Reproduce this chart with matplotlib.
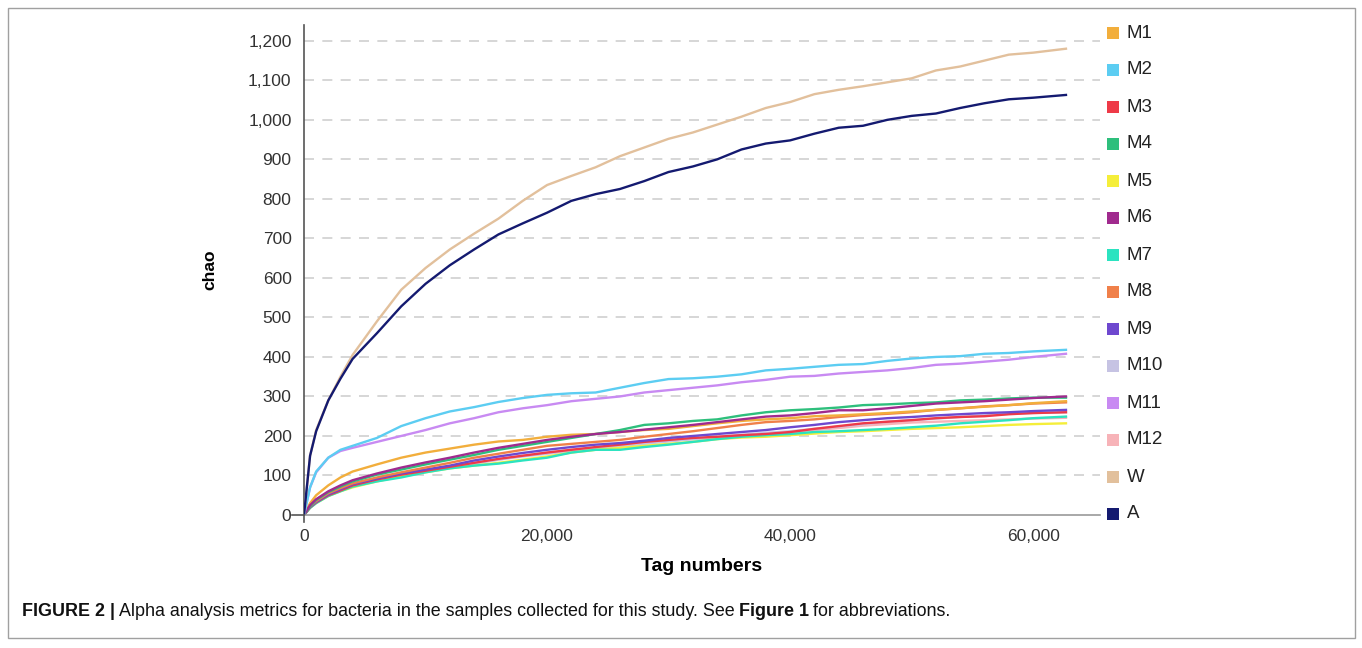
import matplotlib
matplotlib.use("Agg")
import matplotlib.pyplot as plt
from matplotlib.patches import Rectangle
from matplotlib.ticker import FuncFormatter

plt.rcParams['font.family'] = ['Liberation Sans', 'DejaVu Sans']

# ---------------- data ----------------
tags = [0, 500, 1000, 2000, 3000, 4000, 6000, 8000, 10000, 12000, 14000, 16000,
        18000, 20000, 22000, 24000, 26000, 28000, 30000, 32000, 34000, 36000,
        38000, 40000, 42000, 44000, 46000, 48000, 50000, 52000, 54000, 56000,
        58000, 60000, 62700]

M1 = [0, 30, 50, 75, 95, 110, 128, 145, 158, 168, 178, 186, 190, 198, 203, 205, 210,
      215, 218, 225, 232, 238, 242, 245, 250, 252, 255, 258, 262, 266, 270, 274, 278, 283, 288]
M2 = [0, 70, 110, 145, 165, 175, 195, 225, 245, 262, 273, 286, 296, 304, 308, 310, 322,
      334, 344, 346, 350, 356, 366, 370, 375, 380, 382, 390, 396, 400, 402, 408, 410, 414, 418]
M3 = [0, 20, 32, 50, 62, 75, 90, 102, 112, 122, 132, 142, 150, 158, 165, 172, 178,
      185, 190, 195, 198, 202, 205, 210, 218, 225, 232, 236, 240, 245, 248, 250, 255, 258, 260]
M4 = [0, 22, 38, 58, 72, 85, 102, 115, 128, 140, 152, 165, 175, 185, 195, 205, 215,
      228, 232, 238, 242, 252, 260, 265, 268, 272, 278, 280, 283, 285, 290, 292, 295, 297, 297]
M5 = [0, 18, 30, 48, 60, 70, 85, 98, 108, 118, 125, 132, 140, 148, 158, 165, 170,
      175, 180, 185, 192, 196, 198, 202, 206, 210, 212, 215, 218, 220, 222, 225, 228, 230, 232]
M6 = [0, 25, 40, 60, 75, 88, 105, 120, 133, 145, 158, 170, 180, 190, 198, 205, 210,
      216, 222, 228, 235, 242, 249, 252, 258, 265, 265, 270, 276, 282, 285, 288, 292, 296, 300]
M7 = [0, 18, 30, 48, 60, 72, 85, 95, 108, 118, 125, 130, 138, 145, 158, 165, 165,
      172, 178, 185, 192, 198, 202, 205, 210, 212, 215, 218, 222, 226, 232, 236, 240, 245, 249]
M8 = [0, 22, 35, 55, 68, 80, 95, 108, 120, 132, 145, 155, 165, 175, 180, 185, 190,
      198, 205, 212, 220, 228, 235, 238, 242, 248, 253, 256, 260, 266, 270, 275, 278, 282, 285]
M9 = [0, 20, 33, 52, 65, 78, 92, 105, 115, 125, 138, 148, 157, 165, 172, 178, 182,
      188, 195, 200, 205, 210, 215, 222, 228, 235, 240, 245, 248, 252, 255, 258, 260, 263, 266]
M10 = [0, 20, 32, 50, 62, 74, 88, 100, 110, 120, 130, 140, 148, 155, 162, 168, 175,
       180, 186, 192, 198, 203, 208, 212, 218, 224, 230, 236, 240, 244, 248, 252, 256, 258, 260]
M11 = [0, 70, 108, 145, 162, 170, 185, 200, 215, 232, 245, 260, 270, 278, 288, 294, 300,
       310, 316, 322, 328, 336, 342, 350, 352, 358, 362, 366, 372, 380, 383, 388, 393, 400, 408]
M12 = [0, 20, 33, 50, 63, 75, 90, 102, 112, 122, 132, 140, 150, 158, 165, 170, 175,
       182, 188, 192, 196, 200, 205, 210, 215, 220, 226, 230, 234, 236, 238, 240, 242, 244, 246]
W = [0, 150, 215, 290, 350, 405, 490, 570, 625, 672, 712, 750, 795, 835, 858, 880, 908,
     930, 952, 968, 988, 1008, 1030, 1045, 1065, 1076, 1085, 1095, 1105, 1125, 1135, 1150, 1165, 1170, 1180]
A = [0, 150, 212, 290, 345, 395, 460, 528, 585, 632, 672, 710, 738, 765, 795, 812, 825,
     845, 868, 882, 900, 925, 940, 948, 965, 980, 985, 1000, 1010, 1016, 1030, 1042, 1052, 1056, 1063]

names = ["M1", "M2", "M3", "M4", "M5", "M6", "M7", "M8", "M9", "M10", "M11", "M12", "W", "A"]
series = [M1, M2, M3, M4, M5, M6, M7, M8, M9, M10, M11, M12, W, A]
colors = ["#F2AE3C", "#5CCDF2", "#EE3A48", "#2EBF7C", "#F5EE3A", "#A02A8E", "#2BE3C0",
          "#F0804A", "#6E48CF", "#C6C3E3", "#C88AF2", "#F7B3B8", "#E2C09C", "#141A70"]

y_ticks = list(range(0, 1201, 100))
x_ticks = [0, 20000, 40000, 60000]

# ---------------- figure ----------------
fig = plt.figure(figsize=(13.62, 6.48), dpi=100)
ax = fig.add_axes([304 / 1362, 1 - 515 / 648, (1100 - 304) / 1362, (515 - 25) / 648])

order = [11, 9, 4, 6, 2, 8, 7, 0, 3, 5, 10, 1, 12, 13]
for i in order:
    ax.plot(tags, series[i], color=colors[i], lw=1.7, solid_joinstyle='round', zorder=3)

ax.set_xlim(0, 65500)
ax.set_ylim(0, 1240)
ax.set_yticks(y_ticks)
ax.set_xticks(x_ticks)
fmt = FuncFormatter(lambda v, p: f"{int(v):,}")
ax.yaxis.set_major_formatter(fmt)
ax.xaxis.set_major_formatter(fmt)
ax.tick_params(axis='both', length=0, labelsize=12.5, labelcolor='#333333', pad=9)
ax.tick_params(axis='x', pad=10)

for v in y_ticks[1:]:
    ax.axhline(v, color='#d0d0d0', lw=1.2, ls=(0, (6, 5)), zorder=1)

for s in ['top', 'right']:
    ax.spines[s].set_visible(False)
ax.spines['left'].set_color('#555555')
ax.spines['left'].set_linewidth(1.2)
ax.spines['bottom'].set_color('#9a9a9a')
ax.spines['bottom'].set_linewidth(1.2)

ax.plot([0, 0], [0, -18], color='#555555', lw=1.2, clip_on=False, zorder=4)
ax.plot([-1000, 0], [0, 0], color='#555555', lw=1.2, clip_on=False, zorder=4)

ax.set_xlabel("Tag numbers", fontsize=14, fontweight='bold', labelpad=10)
ax.set_ylabel("chao", fontsize=12.5, fontweight='bold', labelpad=22)

# ---------------- legend (manual) ----------------
y0 = 33
step = 37.0
for k, (nm, c) in enumerate(zip(names, colors)):
    yc = y0 + k * step
    fig.add_artist(Rectangle((1107 / 1362, 1 - (yc + 6) / 648), 12 / 1362, 12 / 648,
                             transform=fig.transFigure, color=c, lw=0))
    fig.text(1127 / 1362, 1 - yc / 648, nm, fontsize=13.5, color='#222222',
             va='center', ha='left')

# ---------------- frame & caption ----------------
fig.add_artist(Rectangle((8 / 1362, 1 - 638 / 648), (1355 - 8) / 1362, (638 - 8) / 648,
                         transform=fig.transFigure, fill=False, ec='#a0a0a0', lw=1.0))

cap_fs = 12.9
cy = 1 - 611 / 648
fig.canvas.draw()
r = fig.canvas.get_renderer()
parts = [("FIGURE 2 |", 'bold', 4), ("Alpha analysis metrics for bacteria in the samples collected for this study. See", 'normal', 4),
         ("Figure 1", 'bold', 4), ("for abbreviations.", 'normal', 0)]
x = 22
for txt, wt, gap in parts:
    t = fig.text(x / 1362, cy, txt, fontsize=cap_fs, fontweight=wt, va='center',
                 ha='left', color='#111111')
    bb = t.get_window_extent(r)
    x = bb.x1 + gap

fig.savefig("out.png", dpi=100)
